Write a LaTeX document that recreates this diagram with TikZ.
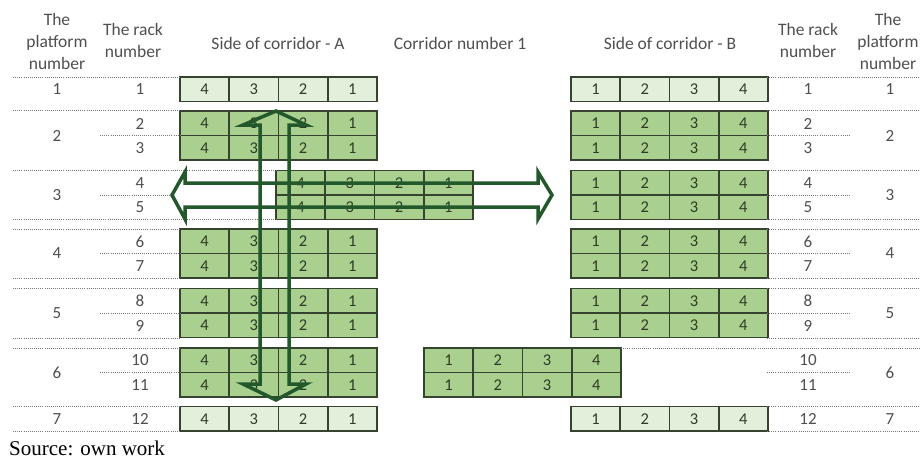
\documentclass[tikz,border=0pt]{standalone}
\usepackage{fontspec}
\setmainfont{Carlito}
\newfontfamily\srcfont{Liberation Serif}
\definecolor{rackline}{HTML}{36432F}
\definecolor{greenrack}{HTML}{A9D08E}
\definecolor{lightrack}{HTML}{E2EFDA}
\definecolor{digit}{HTML}{2E3B26}
\definecolor{labelgray}{HTML}{4F4F4F}
\definecolor{sepgray}{HTML}{7A7A7A}
\definecolor{flow}{HTML}{22582B}
% one row of four storage cells: name, left x, top y, fill, cell numbers
\newcommand\rackcells[5]{%
  \foreach \d [count=\i] in {#5}
    \node[cell, fill=#4] (#1-\i) at ({#2+49.25*(\i-0.5)},{#3+12.25}) {\d};}
\begin{document}
\begin{tikzpicture}[x=1pt,y=-1pt,
  cell/.style={draw=rackline, line width=1.6pt, minimum width=49.25pt,
    minimum height=24.5pt, inner sep=0pt, outer sep=0pt, text=digit,
    font=\fontsize{16.5}{16.5}\selectfont},
  head/.style={align=center, text=labelgray, inner sep=0pt,
    font=\fontsize{17.5}{22}\selectfont},
  num/.style={text=labelgray, inner sep=0pt, font=\fontsize{17}{17}\selectfont},
  sep/.style={draw=sepgray, line width=1pt, dash pattern=on 1pt off 1.1pt},
  flowarrow/.style={draw=flow, line width=3.5pt, line join=miter}]
\useasboundingbox (0,0) rectangle (920,459);

% column headings
\node[head] (hpl) at (57,41) {The\\platform\\number};
\node[head] (hrl) at (133,40.5) {The rack\\number};
\node[head] (hsa) at (278,43) {Side of corridor - A};
\node[head] (hco) at (460,43) {Corridor number 1};
\node[head] (hsb) at (670,43) {Side of corridor - B};
\node[head] (hrr) at (808,40.5) {The rack\\number};
\node[head] (hpr) at (888,41) {The\\platform\\number};

% side A racks
\rackcells{a1}{180}{77}{lightrack}{4,3,2,1}
\rackcells{a2}{180}{111}{greenrack}{4,3,2,1}
\rackcells{a3}{180}{135.5}{greenrack}{4,3,2,1}
\rackcells{a6}{180}{229}{greenrack}{4,3,2,1}
\rackcells{a7}{180}{253.5}{greenrack}{4,3,2,1}
\rackcells{a8}{180}{288.5}{greenrack}{4,3,2,1}
\rackcells{a9}{180}{313}{greenrack}{4,3,2,1}
\rackcells{a10}{180}{348}{greenrack}{4,3,2,1}
\rackcells{a11}{180}{372.5}{greenrack}{4,3,2,1}
\rackcells{a12}{180}{406.5}{lightrack}{4,3,2,1}
% racks moved into the corridor
\rackcells{c4}{276}{170.5}{greenrack}{4,3,2,1}
\rackcells{c5}{276}{195}{greenrack}{4,3,2,1}
\rackcells{c10}{424}{348}{greenrack}{1,2,3,4}
\rackcells{c11}{424}{372.5}{greenrack}{1,2,3,4}
% side B racks
\rackcells{b1}{571}{77}{lightrack}{1,2,3,4}
\rackcells{b2}{571}{111}{greenrack}{1,2,3,4}
\rackcells{b3}{571}{135.5}{greenrack}{1,2,3,4}
\rackcells{b4}{571}{170.5}{greenrack}{1,2,3,4}
\rackcells{b5}{571}{195}{greenrack}{1,2,3,4}
\rackcells{b6}{571}{229}{greenrack}{1,2,3,4}
\rackcells{b7}{571}{253.5}{greenrack}{1,2,3,4}
\rackcells{b8}{571}{288.5}{greenrack}{1,2,3,4}
\rackcells{b9}{571}{313}{greenrack}{1,2,3,4}
\rackcells{b12}{571}{406.5}{lightrack}{1,2,3,4}

% dotted separators between platforms
\foreach \y/\xe in {77/180,110/180,170.5/276,219.5/276,229/180,278/180,
    288.5/180,338/180,348/180,406.5/180,431/180}
  \draw[sep] (13,\y) -- (\xe,\y);
\foreach \y/\xs in {77/767,110/767,170.5/767,219.5/767,229/767,278/767,
    288.5/767,338/767,348/621,406.5/767,431/767}
  \draw[sep] (\xs,\y) -- (920,\y);
\foreach \y/\xe in {135.5/180,195/172,253.5/180,313/180,372.5/180}
  \draw[sep] (100,\y) -- (\xe,\y);
\foreach \y in {135.5,195,253.5,313,372.5}
  \draw[sep] (767,\y) -- (850,\y);

% platform numbers
\foreach \p/\y in {1/89.5,2/135.5,3/195,4/253.5,5/313,6/372.5,7/419} {
  \node[num] (pl\p) at (57,\y) {\p};
  \node[num] (pr\p) at (890,\y) {\p};
}
% rack numbers
\foreach \r/\y in {1/89.5,2/123.5,3/148,4/183,5/207.5,6/241.5,7/266,
    8/301,9/325.5,10/360.5,11/385,12/419} {
  \node[num] (rl\r) at (140,\y) {\r};
  \node[num] (rr\r) at (808,\y) {\r};
}

% horizontal two-way block arrow
\draw[flowarrow] (185,183) -- (185,172) -- (172,195) -- (185,219) -- (185,207)
  -- (538,207) -- (538,219) -- (552,195) -- (538,172) -- (538,183) -- cycle;
% vertical two-way block arrow
\draw[flowarrow] (260,125) -- (243,125) -- (276,111) -- (306,125) -- (289,125)
  -- (289,384) -- (306,384) -- (276,400) -- (243,384) -- (260,384) -- cycle;

% source line
\node[anchor=west, inner sep=0pt, font=\srcfont\fontsize{21}{21}\selectfont]
  (src) at (9,448) {Source: own work};
\end{tikzpicture}
\end{document}
